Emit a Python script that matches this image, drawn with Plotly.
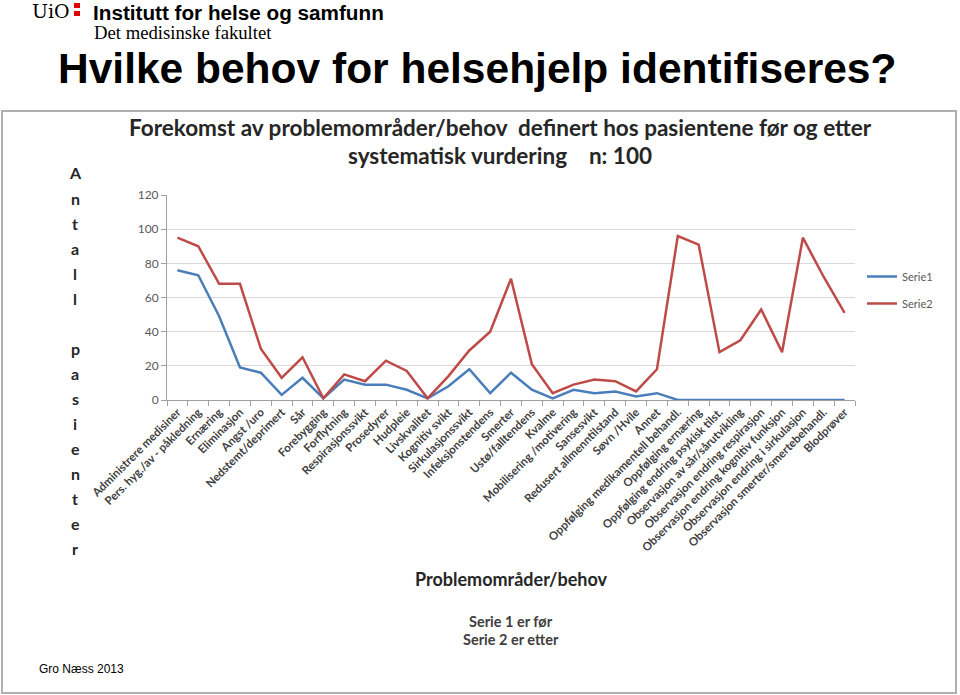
import plotly.graph_objects as go

categories = [
    "Administrere medisiner", "Pers. hyg./av - påkledning", "Ernæring", "Eliminasjon",
    "Angst /uro", "Nedstemt/deprimert", "Sår", "Forebygging", "Forflytning",
    "Respirasjonssvikt", "Prosedyrer", "Hudpleie", "Livskvalitet", "Kognitiv svikt",
    "Sirkulasjonssvikt", "Infeksjonstendens", "Smerter", "Ustø/falltendens", "Kvalme",
    "Mobilisering /motivering", "Sansesvikt", "Redusert allmenntilstand", "Søvn /Hvile",
    "Annet", "Oppfølging medikamentell behandl.", "Oppfølging ernæring",
    "Oppfølging endring psykisk tilst.", "Observasjon av sår/sårutvikling",
    "Observasjon endring respirasjon", "Observasjon endring kognitiv funksjon",
    "Observasjon endring i sirkulasjon", "Observasjon smerter/smertebehandl.", "Blodprøver",
]
serie1 = [76, 73, 49, 19, 16, 3, 13, 1, 12, 9, 9, 6, 1, 8, 18, 4, 16, 6, 1, 6, 4, 5, 2, 4,
          0, 0, 0, 0, 0, 0, 0, 0, 0]
serie2 = [95, 90, 68, 68, 30, 13, 25, 1, 15, 11, 23, 17, 1, 14, 29, 40, 71, 21, 4, 9, 12, 11, 5, 18,
          96, 91, 28, 35, 53, 28, 95, 72, 51]
y_ticks = [0, 20, 40, 60, 80, 100, 120]

W, H = 960, 695
L, R, T, B = 167, 855, 195, 400


def px(x):
    return (x - L) / (R - L)


def py(y):
    return (B - y) / (B - T)


fig = go.Figure()
fig.add_trace(go.Scatter(x=categories, y=serie1, mode="lines", name="Serie1",
                         line=dict(color="#4A7EBB", width=2.5), legendgroup="a"))
fig.add_trace(go.Scatter(x=categories, y=serie2, mode="lines", name="Serie2",
                         line=dict(color="#BE4B48", width=2.5), legendgroup="b"))

cal = "Lato"
fig.update_layout(
    width=W, height=H,
    margin=dict(l=L, r=W - R, t=T, b=H - B, pad=0),
    paper_bgcolor="white", plot_bgcolor="white",
    showlegend=True,
    legend=dict(x=px(862), y=py(262), xanchor="left", yanchor="top",
                font=dict(family=cal, size=11, color="#595959"),
                tracegroupgap=8, bgcolor="rgba(0,0,0,0)"),
    xaxis=dict(type="category", tickangle=-45, showgrid=False,
               showline=True, linecolor="#A0A0A0", linewidth=1,
               ticks="outside", tickson="boundaries", ticklen=5, tickcolor="#A0A0A0",
               tickfont=dict(family=cal, size=11.5, color="#404040", weight="bold"),
               range=[-0.5, len(categories) - 0.5]),
    yaxis=dict(range=[0, 120], tickvals=y_ticks, showgrid=True, gridcolor="#D9D9D9",
               gridwidth=1, zeroline=False, showline=True, linecolor="#A0A0A0",
               ticks="outside", ticklen=5, tickcolor="#A0A0A0",
               tickfont=dict(family=cal, size=12, color="#595959")),
)

ann = []
# header
ann.append(dict(x=px(30), y=py(11), text="UiO", showarrow=False, xanchor="left", yanchor="middle",
                font=dict(family="DejaVu Serif", size=19, color="#000000")))
ann.append(dict(x=px(91), y=py(12), text="<b>Institutt for helse og samfunn</b>", showarrow=False,
                xanchor="left", yanchor="middle",
                font=dict(family="Liberation Sans", size=20.7, color="#000000")))
ann.append(dict(x=px(92), y=py(32), text="Det medisinske fakultet", showarrow=False,
                xanchor="left", yanchor="middle",
                font=dict(family="Liberation Serif", size=18.7, color="#000000")))
ann.append(dict(x=px(477), y=py(69), text="<b>Hvilke behov for helsehjelp identifiseres?</b>",
                showarrow=False, xanchor="center", yanchor="middle",
                font=dict(family="Liberation Sans", size=42.5, color="#000000")))
# chart title
ann.append(dict(x=px(500), y=py(128), text="<b>Forekomst av problemområder/behov  definert hos pasientene før og etter</b>",
                showarrow=False, xanchor="center", yanchor="middle",
                font=dict(family=cal, size=22.5, color="#262626")))
ann.append(dict(x=px(500), y=py(155), text="<b>systematisk vurdering    n: 100</b>",
                showarrow=False, xanchor="center", yanchor="middle",
                font=dict(family=cal, size=22.5, color="#262626")))
# y-axis title as stacked letters
letters = "Antall pasienter"
ystart, step = 173, 25
for i, ch in enumerate(letters):
    if ch == " ":
        continue
    ann.append(dict(x=px(75), y=py(ystart + i * step), text="<b>" + ch + "</b>", showarrow=False,
                    xanchor="center", yanchor="middle",
                    font=dict(family=cal, size=16, color="#262626")))
# x-axis title and notes
ann.append(dict(x=px(511), y=py(579), text="<b>Problemområder/behov</b>", showarrow=False,
                xanchor="center", yanchor="middle", font=dict(family=cal, size=18, color="#262626")))
ann.append(dict(x=px(511), y=py(621), text="<b>Serie 1 er før</b>", showarrow=False,
                xanchor="center", yanchor="middle", font=dict(family=cal, size=14.5, color="#404040")))
ann.append(dict(x=px(511), y=py(639), text="<b>Serie 2 er etter</b>", showarrow=False,
                xanchor="center", yanchor="middle", font=dict(family=cal, size=14.5, color="#404040")))
ann.append(dict(x=px(37), y=py(669), text="Gro Næss 2013", showarrow=False,
                xanchor="left", yanchor="middle", font=dict(family="Liberation Sans", size=12, color="#000000")))
for a in ann:
    a["xref"] = "paper"
    a["yref"] = "paper"
fig.update_layout(annotations=ann)

# red UiO dots
for (y0, y1) in [(3, 8), (11, 16)]:
    fig.add_shape(type="rect", xref="paper", yref="paper",
                  x0=px(74), x1=px(80), y0=py(y1), y1=py(y0),
                  line=dict(width=0), fillcolor="#DD0000")

fig.add_shape(type="rect", xref="paper", yref="paper",
              x0=px(2), x1=px(956), y0=py(693), y1=py(111),
              line=dict(color="#B0B0B0", width=2), fillcolor="rgba(0,0,0,0)", layer="below")

fig.write_html("out.html")
